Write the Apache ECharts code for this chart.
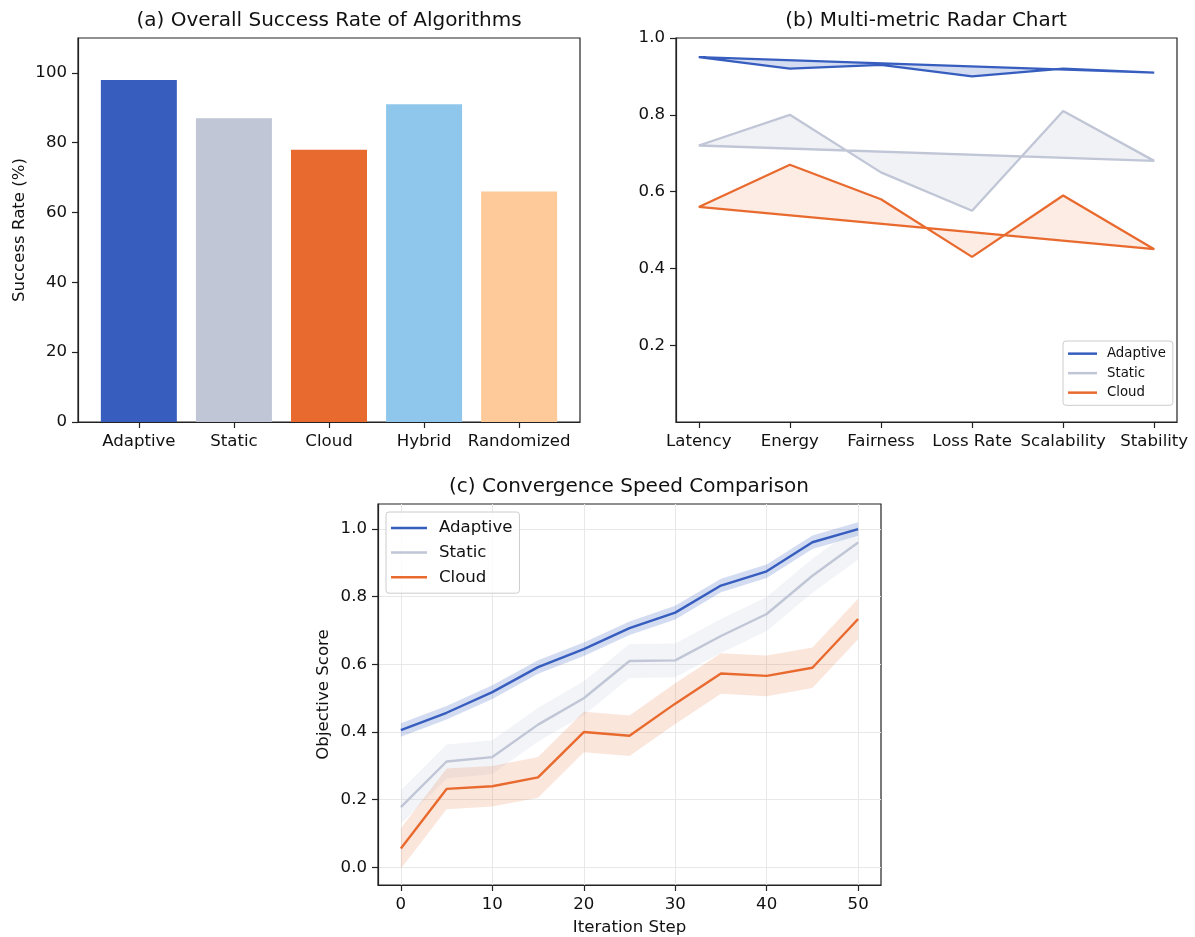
<!DOCTYPE html>
<html>
<head>
<meta charset="utf-8">
<title>Algorithm comparison</title>
<script src="https://cdn.jsdelivr.net/npm/echarts@6/dist/echarts.min.js"></script>
<style>
    html, body { margin: 0; padding: 0; background: #fff; }
    #main { width: 1195px; height: 937px; }
</style>
</head>
<body>
<div id="main"></div>
<script>
// (a) 成功率柱状图
const algorithms = ['Adaptive', 'Static', 'Cloud', 'Hybrid', 'Randomized'];
const successRate = [98, 87, 78, 91, 66];
const rateTicks = [0, 20, 40, 60, 80, 100];

// (b) 多指标 "雷达" 图
const metrics = ['Latency', 'Energy', 'Fairness', 'Loss Rate', 'Scalability', 'Stability'];
const radarAdaptive = [0.95, 0.92, 0.93, 0.90, 0.92, 0.91];
const radarStatic = [0.72, 0.80, 0.65, 0.55, 0.81, 0.68];
const radarCloud = [0.56, 0.67, 0.58, 0.43, 0.59, 0.45];
const radarTicks = [0.2, 0.4, 0.6, 0.8, 1.0];

// (c) 收敛速度
const steps = [0, 5, 10, 15, 20, 25, 30, 35, 40, 45, 50];
const convAdaptive = [0.406, 0.457, 0.518, 0.592, 0.645, 0.707, 0.753, 0.833, 0.875, 0.961, 1.0];
const convStatic = [0.178, 0.313, 0.326, 0.422, 0.500, 0.610, 0.612, 0.684, 0.749, 0.862, 0.960];
const convCloud = [0.056, 0.232, 0.240, 0.266, 0.400, 0.389, 0.484, 0.573, 0.566, 0.590, 0.734];
// 阴影带的半宽 (Adaptive, Static, Cloud)
const convSpread = [0.02, 0.05, 0.06];
const stepTicks = [0, 10, 20, 30, 40, 50];
const scoreTicks = [0, 0.2, 0.4, 0.6, 0.8, 1.0];

const FONT = '"DejaVu Sans", sans-serif';
const BLUE = '#375EBF', GREY = '#C0C6D6', ORANGE = '#E96A2E';
const barColors = [BLUE, GREY, ORANGE, '#8FC7EC', '#FFCA99'];
const names = ['Adaptive', 'Static', 'Cloud'];
const lineColors = [BLUE, GREY, ORANGE];

var chart = echarts.init(document.getElementById('main'));

// 通用坐标轴样式
function axis(gridIndex, min, max, ticks, fmt, extra) {
    const base = {
        gridIndex: gridIndex,
        type: 'value',
        min: min,
        max: max,
        axisLine: { show: true, onZero: false, lineStyle: { color: '#222', width: 1.2 } },
        axisTick: { show: true, length: 6, customValues: ticks, lineStyle: { color: '#222', width: 1.2 } },
        axisLabel: { customValues: ticks, formatter: fmt, fontSize: 16.6, color: '#111', fontFamily: FONT, margin: 11 },
        splitLine: { show: false },
        nameTextStyle: { fontSize: 16.6, color: '#111', fontFamily: FONT }
    };
    return Object.assign(base, extra || {});
}

// 多边形填充 (雷达的面, 收敛曲线的阴影带)
function polygon(xi, points, fill) {
    return {
        type: 'custom',
        xAxisIndex: xi,
        yAxisIndex: xi,
        silent: true,
        z: 1,
        data: [points[0]],
        renderItem: function (params, api) {
            const pts = points.map(function (p) { return api.coord(p); });
            return { type: 'polygon', shape: { points: pts }, style: { fill: fill } };
        }
    };
}

const series = [];

// (a) 柱子
series.push({
    type: 'bar',
    name: 'Success Rate',
    xAxisIndex: 0,
    yAxisIndex: 0,
    barWidth: 76,
    data: successRate.map(function (v, i) {
        return { value: [i, v], itemStyle: { color: barColors[i] } };
    })
});

// (b) 折线 + 填充
const radarSets = [radarAdaptive, radarStatic, radarCloud];
const radarFill = ['rgba(55,94,191,0.22)', 'rgba(192,198,214,0.22)', 'rgba(233,106,46,0.13)'];
radarSets.forEach(function (vals, k) {
    const pts = vals.map(function (v, i) { return [i, v]; });
    pts.push([0, vals[0]]);
    series.push(polygon(1, pts, radarFill[k]));
    series.push({
        type: 'line',
        name: names[k],
        xAxisIndex: 1,
        yAxisIndex: 1,
        symbol: 'none',
        z: 3,
        itemStyle: { color: lineColors[k] },
        lineStyle: { color: lineColors[k], width: 2.3 },
        data: pts
    });
});

// (c) 均值线 + 阴影带
const convSets = [convAdaptive, convStatic, convCloud];
const bandFill = ['rgba(55,94,191,0.22)', 'rgba(192,198,214,0.2)', 'rgba(233,106,46,0.17)'];
convSets.forEach(function (vals, k) {
    const upper = vals.map(function (v, i) { return [steps[i], v + convSpread[k]]; });
    const lower = vals.map(function (v, i) { return [steps[i], v - convSpread[k]]; }).reverse();
    series.push(polygon(2, upper.concat(lower), bandFill[k]));
    series.push({
        type: 'line',
        name: names[k],
        xAxisIndex: 2,
        yAxisIndex: 2,
        symbol: 'none',
        z: 3,
        itemStyle: { color: lineColors[k] },
        lineStyle: { color: lineColors[k], width: 2.4 },
        data: vals.map(function (v, i) { return [steps[i], v]; })
    });
});

const oneDec = function (v) { return v.toFixed(1); };
const gridStyle = { show: true, borderColor: '#222', borderWidth: 1.2, backgroundColor: 'transparent' };

option = {
    backgroundColor: '#fff',
    animation: false,
    title: [
        { text: '(a) Overall Success Rate of Algorithms', left: 329, top: 11, textAlign: 'center', padding: 0 },
        { text: '(b) Multi-metric Radar Chart', left: 926, top: 11, textAlign: 'center', padding: 0 },
        { text: '(c) Convergence Speed Comparison', left: 629, top: 477, textAlign: 'center', padding: 0 }
    ].map(function (t) {
        t.textStyle = { fontSize: 20, fontWeight: 'normal', color: '#111', fontFamily: FONT };
        return t;
    }),
    grid: [
        Object.assign({ left: 78, top: 38, width: 502, height: 384 }, gridStyle),
        Object.assign({ left: 676, top: 38, width: 501, height: 384 }, gridStyle),
        Object.assign({ left: 378, top: 504, width: 503, height: 384 }, gridStyle)
    ],
    legend: [{
        data: names,
        left: 1063,
        top: 341,
        orient: 'vertical',
        selectedMode: false,
        icon: 'rect',
        itemWidth: 29,
        itemHeight: 2.5,
        itemGap: 6.2,
        padding: [6, 7, 6, 5],
        borderColor: '#cccccc',
        borderWidth: 1,
        borderRadius: 3,
        backgroundColor: 'rgba(255,255,255,0.8)',
        textStyle: { fontSize: 13.3, lineHeight: 13.3, color: '#111', fontFamily: FONT, padding: [0, 0, 0, 5] }
    }, {
        data: names,
        left: 386,
        top: 512,
        orient: 'vertical',
        selectedMode: false,
        icon: 'rect',
        itemWidth: 36,
        itemHeight: 2.5,
        itemGap: 7.6,
        padding: [7.5, 7, 7.5, 5],
        borderColor: '#cccccc',
        borderWidth: 1,
        borderRadius: 3,
        backgroundColor: 'rgba(255,255,255,0.8)',
        textStyle: { fontSize: 16.6, lineHeight: 16.6, color: '#111', fontFamily: FONT, padding: [0, 0, 0, 7] }
    }],
    xAxis: [
        axis(0, -0.64, 4.64, algorithms.map(function (a, i) { return i; }), function (v) { return algorithms[v]; }),
        axis(1, -0.25, 5.25, metrics.map(function (m, i) { return i; }), function (v) { return metrics[v]; }),
        axis(2, -2.5, 52.5, stepTicks, function (v) { return String(v); }, {
            name: 'Iteration Step', nameLocation: 'middle', nameGap: 34,
            splitLine: { show: true, lineStyle: { color: '#e8e8e8', width: 1 } }
        })
    ],
    yAxis: [
        axis(0, 0, 110, rateTicks, function (v) { return String(v); }, {
            name: 'Success Rate (%)', nameLocation: 'middle', nameGap: 50
        }),
        axis(1, 0, 1, radarTicks, oneDec),
        axis(2, -0.052, 1.074, scoreTicks, oneDec, {
            name: 'Objective Score', nameLocation: 'middle', nameGap: 46,
            splitLine: { show: true, lineStyle: { color: '#e8e8e8', width: 1 } }
        })
    ],
    series: series
};

chart.setOption(option);
</script>
</body>
</html>
